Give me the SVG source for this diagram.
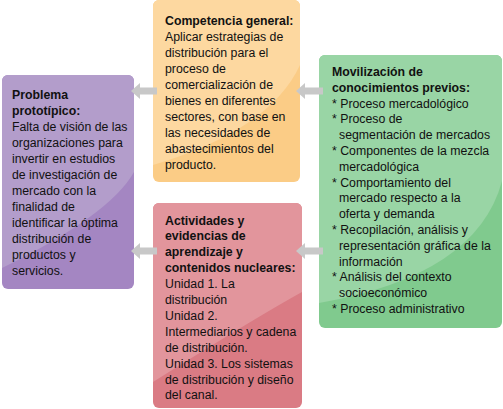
<svg xmlns="http://www.w3.org/2000/svg" width="503" height="409" viewBox="0 0 503 409">
<defs>
<style>
text{font-family:"Liberation Sans",Arial,sans-serif;font-size:12.3px;fill:#111}
.b{font-weight:bold}
.arrow{fill:#c8c8c8}
</style>
<clipPath id="cp1"><rect x="2" y="75" width="132" height="214" rx="6"/></clipPath>
<clipPath id="cp2"><rect x="153" y="0" width="147" height="182" rx="6"/></clipPath>
<clipPath id="cp3"><rect x="153" y="203" width="149" height="205" rx="6"/></clipPath>
<clipPath id="cp4"><rect x="319" y="55" width="183" height="273" rx="6"/></clipPath>
</defs>
<rect width="503" height="409" fill="#fff"/>
<g id="problema">
<rect x="2" y="75" width="132" height="214" rx="6" fill="#a486c2"/>
<path clip-path="url(#cp1)" d="M2,75 H134 V172 Q110,215 2,268 Z" fill="#b39dcb"/>
<text x="12" y="98.5"><tspan class="b">Problema</tspan><tspan class="b" x="12" dy="16">prototípico:</tspan><tspan x="12" dy="16">Falta de visión de las</tspan><tspan x="12" dy="16">organizaciones para</tspan><tspan x="12" dy="16">invertir en estudios</tspan><tspan x="12" dy="16">de investigación de</tspan><tspan x="12" dy="16">mercado con la</tspan><tspan x="12" dy="16">finalidad de</tspan><tspan x="12" dy="16">identificar la óptima</tspan><tspan x="12" dy="16">distribución de</tspan><tspan x="12" dy="16">productos y</tspan><tspan x="12" dy="16">servicios.</tspan></text>
</g>
<g id="competencia">
<rect x="153" y="0" width="147" height="182" rx="6" fill="#fbcc86"/>
<path clip-path="url(#cp2)" d="M153,0 H300 V65 Q270,130 153,165 Z" fill="#fdd8a0"/>
<text x="165" y="25"><tspan class="b">Competencia general:</tspan><tspan x="165" dy="16">Aplicar estrategias de</tspan><tspan x="165" dy="16">distribución para el</tspan><tspan x="165" dy="16">proceso de</tspan><tspan x="165" dy="16">comercialización de</tspan><tspan x="165" dy="16">bienes en diferentes</tspan><tspan x="165" dy="16">sectores, con base en</tspan><tspan x="165" dy="16">las necesidades de</tspan><tspan x="165" dy="16">abastecimientos del</tspan><tspan x="165" dy="16">producto.</tspan></text>
</g>
<g id="actividades">
<rect x="153" y="203" width="149" height="205" rx="6" fill="#da7b84"/>
<path clip-path="url(#cp3)" d="M153,203 H302 V292 Q255,318 153,382 Z" fill="#e2959c"/>
<text x="165" y="224.5"><tspan class="b">Actividades y</tspan><tspan class="b" x="165" dy="15.9">evidencias de</tspan><tspan class="b" x="165" dy="15.9">aprendizaje y</tspan><tspan class="b" x="165" dy="15.9">contenidos nucleares:</tspan><tspan x="165" dy="15.9">Unidad 1. La</tspan><tspan x="165" dy="15.9">distribución</tspan><tspan x="165" dy="15.9">Unidad 2.</tspan><tspan x="165" dy="15.9">Intermediarios y cadena</tspan><tspan x="165" dy="15.9">de distribución.</tspan><tspan x="165" dy="15.9">Unidad 3. Los sistemas</tspan><tspan x="165" dy="15.9">de distribución y diseño</tspan><tspan x="165" dy="15.9">del canal.</tspan></text>
</g>
<g id="movilizacion">
<rect x="319" y="55" width="183" height="273" rx="6" fill="#80ca8e"/>
<path clip-path="url(#cp4)" d="M319,55 H503 V177 Q480,275 319,303 Z" fill="#99d5a5"/>
<text x="332" y="76"><tspan class="b">Movilización de</tspan><tspan class="b" x="332" dy="15.8">conocimientos previos:</tspan><tspan x="332" dy="15.8">* Proceso mercadológico</tspan><tspan x="332" dy="15.8">* Proceso de</tspan><tspan x="339" dy="15.8">segmentación de mercados</tspan><tspan x="332" dy="15.8">* Componentes de la mezcla</tspan><tspan x="339" dy="15.8">mercadológica</tspan><tspan x="332" dy="15.8">* Comportamiento del</tspan><tspan x="339" dy="15.8">mercado respecto a la</tspan><tspan x="339" dy="15.8">oferta y demanda</tspan><tspan x="332" dy="15.8">* Recopilación, análisis y</tspan><tspan x="339" dy="15.8">representación gráfica de la</tspan><tspan x="339" dy="15.8">información</tspan><tspan x="332" dy="15.8">* Análisis del contexto</tspan><tspan x="339" dy="15.8">socioeconómico</tspan><tspan x="332" dy="15.8">* Proceso administrativo</tspan></text>
</g>
<g id="connectors">
<path class="arrow" d="M131,91 L140,83 V87.5 H157 V94.5 H140 V99 Z"/>
<path class="arrow" d="M296,91 L305,83 V87.5 H323 V94.5 H305 V99 Z"/>
<path class="arrow" d="M131,251 L140,243 V247.5 H157 V254.5 H140 V259 Z"/>
<path class="arrow" d="M296,251 L305,243 V247.5 H323 V254.5 H305 V259 Z"/>
</g>
</svg>
